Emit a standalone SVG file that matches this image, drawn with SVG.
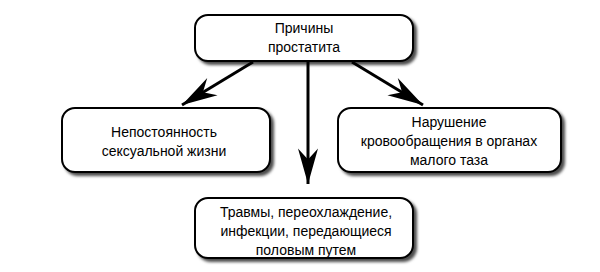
<svg xmlns="http://www.w3.org/2000/svg" width="600" height="272" viewBox="0 0 600 272">
<style>
.box{fill:#fff;stroke:#000;stroke-width:2;filter:url(#sh)}
.t{font-family:"Liberation Sans",Arial,sans-serif;font-size:14px;fill:#000;text-anchor:middle}
.c{stroke:#000;stroke-width:3;fill:none;marker-end:url(#ah)}
</style>
<defs>
<filter id="sh" x="-10%" y="-20%" width="125%" height="150%">
<feDropShadow dx="3" dy="3" stdDeviation="1.5" flood-color="#000" flood-opacity="0.7"/>
</filter>
<marker id="ah" markerUnits="userSpaceOnUse" markerWidth="40" markerHeight="30" viewBox="-34 -12 36 24" refX="0" refY="0" orient="auto">
<path d="M0,0 L-32,-9 L-22,0 L-32,9 Z" fill="#000"/>
</marker>
</defs>
<rect width="600" height="272" fill="#fff"/>
<g id="connectors">
<line class="c" x1="253" y1="62" x2="182" y2="105"/>
<line class="c" x1="308" y1="62" x2="308" y2="184"/>
<line class="c" x1="352" y1="62" x2="423" y2="105"/>
</g>
<g id="n-top">
<rect class="box" x="195" y="15" width="218" height="46" rx="13"/>
<text class="t" x="304" y="33">Причины</text>
<text class="t" x="304" y="52">простатита</text>
</g>
<g id="n-left">
<rect class="box" x="62" y="108" width="208" height="64" rx="13"/>
<text class="t" x="164" y="137">Непостоянность</text>
<text class="t" x="164" y="156">сексуальной жизни</text>
</g>
<g id="n-right">
<rect class="box" x="338" y="108" width="223" height="64" rx="13"/>
<text class="t" x="449" y="127">Нарушение</text>
<text class="t" x="449" y="146">кровообращения в органах</text>
<text class="t" x="449" y="165">малого таза</text>
</g>
<g id="n-bottom">
<rect class="box" x="195" y="198" width="218" height="60" rx="13"/>
<text class="t" x="306" y="217">Травмы, переохлаждение,</text>
<text class="t" x="306" y="236">инфекции, передающиеся</text>
<text class="t" x="306" y="255">половым путем</text>
</g>
</svg>
